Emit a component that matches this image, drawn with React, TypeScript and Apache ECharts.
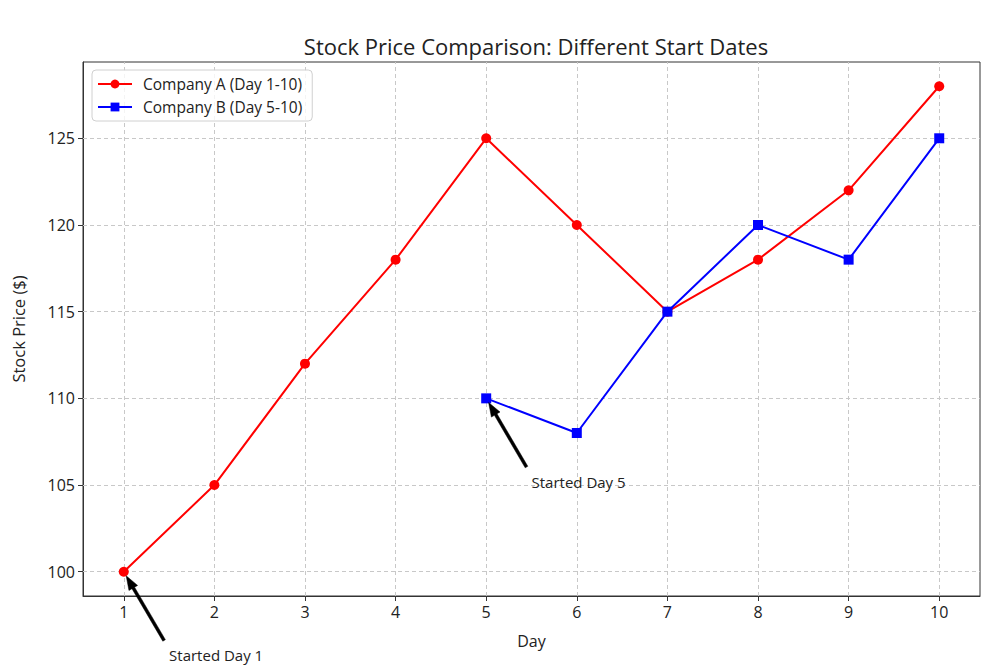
import React, { useEffect, useRef } from "react";
import * as echarts from "echarts";

const daysA = [1, 2, 3, 4, 5, 6, 7, 8, 9, 10];
const pricesA = [100, 105, 112, 118, 125, 120, 115, 118, 122, 128];
const daysB = [5, 6, 7, 8, 9, 10];
const pricesB = [110, 108, 115, 120, 118, 125];
const xTicks = [1, 2, 3, 4, 5, 6, 7, 8, 9, 10];
const yTicks = [100, 105, 110, 115, 120, 125];
const annotations = [
  { text: "Started Day 1", xy: [1, 100], xytext: [1.5, 95] },
  { text: "Started Day 5", xy: [5, 110], xytext: [5.5, 105] },
];

const FONT = "'Open Sans', Roboto, sans-serif";
const TXT = "#222222";

export default function App() {
  const ref = useRef<HTMLDivElement>(null);
  useEffect(() => {
    if (!ref.current) return;
    const chart = echarts.init(ref.current, null, { renderer: "svg" });
    const dataA = daysA.map((d, i) => [d, pricesA[i]]);
    const dataB = daysB.map((d, i) => [d, pricesB[i]]);
    const gridLine = {
      color: "#c8c8c8",
      width: 1,
      type: [4, 3] as any,
    };
    chart.setOption({
      animation: false,
      backgroundColor: "#ffffff",
      textStyle: { fontFamily: FONT },
      title: {
        text: "Stock Price Comparison: Different Start Dates",
        left: 531,
        textAlign: "center",
        top: 30,
        textStyle: { fontSize: 22, fontWeight: "normal", color: TXT, fontFamily: FONT },
      },
      legend: {
        orient: "vertical",
        left: 92,
        top: 70,
        data: ["Company A (Day 1-10)", "Company B (Day 5-10)"],
        itemWidth: 34,
        itemHeight: 11,
        itemGap: 5,
        padding: [5, 10, 5, 5],
        borderColor: "#d0d0d0",
        borderWidth: 1,
        borderRadius: 4,
        backgroundColor: "rgba(255,255,255,0.8)",
        textStyle: {
          fontSize: 15.5,
          lineHeight: 18,
          color: TXT,
          fontFamily: FONT,
          padding: [0, 0, 0, 6],
        },
      },
      grid: {
        left: 83,
        right: 15,
        top: 62,
        bottom: 73,
        show: true,
        borderColor: "#333",
        borderWidth: 1,
        backgroundColor: "transparent",
      },
      xAxis: {
        type: "value",
        min: 0.55,
        max: 10.45,
        name: "Day",
        nameLocation: "middle",
        nameGap: 37,
        nameTextStyle: { fontSize: 16, color: TXT, fontFamily: FONT },
        axisLine: { show: true, onZero: false, lineStyle: { color: "#333", width: 1 } },
        axisTick: { show: true, customValues: xTicks, length: 5, lineStyle: { color: "#333" } },
        axisLabel: { customValues: xTicks, fontSize: 16, color: TXT, margin: 8, fontFamily: FONT },
        splitLine: { show: false },
      },
      yAxis: {
        type: "value",
        min: 98.6,
        max: 129.4,
        name: "Stock Price ($)",
        nameLocation: "middle",
        nameGap: 56,
        nameTextStyle: { fontSize: 16.5, color: TXT, fontFamily: FONT },
        axisLine: { show: true, onZero: false, lineStyle: { color: "#333", width: 1 } },
        axisTick: { show: true, customValues: yTicks, length: 5, lineStyle: { color: "#333" } },
        axisLabel: { customValues: yTicks, fontSize: 16, color: TXT, margin: 8, fontFamily: FONT },
        splitLine: { show: false },
      },
      series: [
        {
          name: "grid",
          type: "line",
          data: dataA,
          showSymbol: false,
          lineStyle: { opacity: 0 },
          silent: true,
          z: 1,
          markLine: {
            silent: true,
            z: 1,
            symbol: "none",
            label: { show: false },
            lineStyle: gridLine,
            data: [
              ...xTicks.map((v) => ({ xAxis: v })),
              ...yTicks.map((v) => ({ yAxis: v })),
            ],
          },
        },
        {
          name: "Company A (Day 1-10)",
          type: "line",
          data: dataA,
          symbol: "circle",
          symbolSize: 10,
          color: "#ff0000",
          lineStyle: { color: "#ff0000", width: 2 },
          itemStyle: { color: "#ff0000", borderWidth: 0 },
          z: 3,
        },
        {
          name: "Company B (Day 5-10)",
          type: "line",
          data: dataB,
          symbol: "rect",
          symbolSize: 10,
          color: "#0000ff",
          lineStyle: { color: "#0000ff", width: 2 },
          itemStyle: { color: "#0000ff", borderWidth: 0 },
          z: 4,
        },
      ],
    });

    const graphics: any[] = [];
    annotations.forEach((a) => {
      const p = chart.convertToPixel({ gridIndex: 0 }, a.xy) as number[];
      const t = chart.convertToPixel({ gridIndex: 0 }, a.xytext) as number[];
      const tail = [t[0] - 5, t[1] - 18];
      const tip = [p[0] + 0.06 * (tail[0] - p[0]), p[1] + 0.06 * (tail[1] - p[1])];
      const dx = tip[0] - tail[0];
      const dy = tip[1] - tail[1];
      const L = Math.sqrt(dx * dx + dy * dy);
      const ux = dx / L;
      const uy = dy / L;
      const nx = -uy;
      const ny = ux;
      const sw = 1.5;
      const hw = 5;
      const hl = 14;
      const bx = tip[0] - ux * hl;
      const by = tip[1] - uy * hl;
      graphics.push({
        type: "polygon",
        z: 100,
        shape: {
          points: [
            [tail[0] + nx * sw, tail[1] + ny * sw],
            [bx + nx * sw, by + ny * sw],
            [bx + nx * hw, by + ny * hw],
            [tip[0], tip[1]],
            [bx - nx * hw, by - ny * hw],
            [bx - nx * sw, by - ny * sw],
            [tail[0] - nx * sw, tail[1] - ny * sw],
          ],
        },
        style: { fill: "#000000", stroke: "#000000", lineWidth: 0.5 },
      });
      graphics.push({
        type: "text",
        z: 100,
        x: t[0],
        y: t[1] + 4,
        style: {
          text: a.text,
          fill: TXT,
          font: `15px ${FONT}`,
          align: "left",
          verticalAlign: "bottom",
        },
      });
    });
    chart.setOption({ graphic: graphics });

    return () => chart.dispose();
  }, []);
  return (
    <div
      ref={ref}
      style={{ position: "fixed", left: 0, top: 0, width: 995, height: 669, background: "#fff" }}
    />
  );
}
